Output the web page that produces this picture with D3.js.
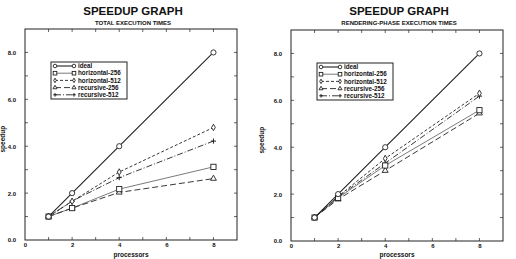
<!DOCTYPE html>
<meta charset="utf-8">
<html lang="en">
<style>
body { margin: 0; background: #fff; }
svg text { font-family: "Liberation Sans", Arial, sans-serif; font-weight: bold; fill: #111; }
.frame { fill: none; stroke: #222; stroke-width: 1px; }
.series { fill: none; stroke: #222; }
</style>
<body>
<div id="chart"></div>
<script src="https://cdn.jsdelivr.net/npm/d3@7"></script>
<script>
// x values (processors) and series values
var procs = [1, 2, 4, 8];
var seriesNames = ["ideal", "horizontal-256", "horizontal-512", "recursive-256", "recursive-512"];

var totalIdeal = [1, 2, 4, 8],
    totalH256  = [1, 1.36, 2.17, 3.12],
    totalH512  = [1, 1.65, 2.9, 4.8],
    totalR256  = [1, 1.36, 2.03, 2.62],
    totalR512  = [1, 1.66, 2.66, 4.22];

var renderIdeal = [1, 2, 4, 8],
    renderH256  = [1, 1.84, 3.22, 5.58],
    renderH512  = [1, 1.9, 3.52, 6.3],
    renderR256  = [1, 1.78, 3.0, 5.45],
    renderR512  = [1, 1.88, 3.32, 6.18];

var xTicks = [0, 2, 4, 6, 8],
    yTicks = [0, 2, 4, 6, 8];

// line style + marker for each series
var styles = [
  {dash: null,      width: 1.1, marker: "circle"},
  {dash: null,      width: 0.6, marker: "square"},
  {dash: "3,2",     width: 0.9, marker: "diamond"},
  {dash: "6,3",     width: 0.9, marker: "triangle"},
  {dash: "6,2,1,2", width: 0.9, marker: "plus"}
];

var svg = d3.select("#chart").append("svg")
    .attr("width", 516)
    .attr("height", 259);

function drawMarker(g, type, cx, cy, r) {
  if (type == "circle") {
    g.append("circle").attr("cx", cx).attr("cy", cy).attr("r", r)
      .attr("fill", "#fff").attr("stroke", "#222").attr("stroke-width", 0.9);
  } else if (type == "square") {
    g.append("rect").attr("x", cx - r).attr("y", cy - r).attr("width", 2 * r).attr("height", 2 * r)
      .attr("fill", "#fff").attr("stroke", "#222").attr("stroke-width", 0.9);
  } else if (type == "diamond") {
    g.append("path").attr("d", d3.symbol().type(d3.symbolDiamond).size(r * r * 1.8)())
      .attr("transform", "translate(" + cx + "," + cy + ")")
      .attr("fill", "#fff").attr("stroke", "#222").attr("stroke-width", 0.9);
  } else if (type == "triangle") {
    g.append("path").attr("d", d3.symbol().type(d3.symbolTriangle).size(r * r * 2.2)())
      .attr("transform", "translate(" + cx + "," + cy + ")")
      .attr("fill", "#fff").attr("stroke", "#222").attr("stroke-width", 0.9);
  } else {
    g.append("path").attr("d", "M" + (cx - r) + "," + cy + "H" + (cx + r) + "M" + cx + "," + (cy - r) + "V" + (cy + r))
      .attr("stroke", "#222").attr("stroke-width", 1);
  }
}

function drawPanel(opts) {
  var g = svg.append("g");
  var x = d3.scaleLinear().domain([0, 9]).range([opts.left, opts.right]);
  var y = d3.scaleLinear().domain([0, 9]).range([opts.bottom, opts.top]);
  var cx = (opts.left + opts.right) / 2;

  g.append("text").attr("x", cx + 2).attr("y", 15).attr("text-anchor", "middle")
    .style("font-size", "11.5px").text("SPEEDUP GRAPH");
  g.append("text").attr("x", cx + 2).attr("y", 25).attr("text-anchor", "middle")
    .style("font-size", "6px").text(opts.subtitle);

  g.append("rect").attr("class", "frame")
    .attr("x", opts.left).attr("y", opts.top)
    .attr("width", opts.right - opts.left).attr("height", opts.bottom - opts.top);

  // axes; tick marks drawn separately inside the frame
  g.append("g").attr("transform", "translate(0," + opts.bottom + ")")
    .call(d3.axisBottom(x).tickValues(xTicks).tickSize(0).tickPadding(3).tickFormat(d3.format("d")))
    .call(function(a) { a.select(".domain").remove(); a.selectAll("text").style("font-size", "6px").style("font-family", null); });
  g.append("g").attr("transform", "translate(" + opts.left + ",0)")
    .call(d3.axisLeft(y).tickValues(yTicks).tickSize(0).tickPadding(9).tickFormat(d3.format(".1f")))
    .call(function(a) { a.select(".domain").remove(); a.selectAll("text").style("font-size", "6px").style("font-family", null); });

  var minor = d3.range(1, 9);
  minor.forEach(function(v) {
    g.append("line").attr("x1", x(v)).attr("x2", x(v)).attr("y1", opts.bottom).attr("y2", opts.bottom - 3).attr("stroke", "#222").attr("stroke-width", 0.7);
    g.append("line").attr("x1", x(v)).attr("x2", x(v)).attr("y1", opts.top).attr("y2", opts.top + 3).attr("stroke", "#222").attr("stroke-width", 0.7);
    g.append("line").attr("x1", opts.left).attr("x2", opts.left + 3).attr("y1", y(v)).attr("y2", y(v)).attr("stroke", "#222").attr("stroke-width", 0.7);
    g.append("line").attr("x1", opts.right).attr("x2", opts.right - 3).attr("y1", y(v)).attr("y2", y(v)).attr("stroke", "#222").attr("stroke-width", 0.7);
  });

  g.append("text").attr("x", cx).attr("y", 257).attr("text-anchor", "middle")
    .style("font-size", "6.5px").text("processors");
  g.append("text").attr("transform", "translate(" + opts.ylabX + "," + y(4.3) + ") rotate(-90)")
    .attr("text-anchor", "middle").style("font-size", "6.5px").text("speedup");

  var line = d3.line().x(function(d, i) { return x(procs[i]); }).y(function(d) { return y(d); });

  // draw from last to first so the ideal line is on top
  for (var s = opts.data.length - 1; s >= 0; s--) {
    var st = styles[s];
    g.append("path").datum(opts.data[s]).attr("class", "series")
      .attr("stroke-width", st.width)
      .attr("stroke-dasharray", st.dash)
      .attr("d", line);
    opts.data[s].forEach(function(v, i) { drawMarker(g, st.marker, x(procs[i]), y(v), 2.6); });
  }

  // legend
  var lx = opts.left + 26, ly = opts.top + 33;
  var lg = g.append("g");
  lg.append("rect").attr("x", lx).attr("y", ly).attr("width", 76).attr("height", 37)
    .attr("fill", "#fff").attr("stroke", "#222").attr("stroke-width", 1);
  seriesNames.forEach(function(name, i) {
    var yy = ly + 4 + i * 7.2;
    var st = styles[i];
    lg.append("line").attr("x1", lx + 4).attr("x2", lx + 23).attr("y1", yy).attr("y2", yy)
      .attr("stroke", "#222").attr("stroke-width", st.width).attr("stroke-dasharray", st.dash);
    drawMarker(lg, st.marker, lx + 4, yy, 1.8);
    drawMarker(lg, st.marker, lx + 23, yy, 1.8);
    lg.append("text").attr("x", lx + 27).attr("y", yy + 2.2).style("font-size", "6.3px").text(name);
  });
}

drawPanel({left: 25, right: 237, top: 29, bottom: 240, ylabX: 5, subtitle: "TOTAL EXECUTION TIMES",
  data: [totalIdeal, totalH256, totalH512, totalR256, totalR512]});
drawPanel({left: 291, right: 503, top: 30, bottom: 241, ylabX: 264, subtitle: "RENDERING-PHASE EXECUTION TIMES",
  data: [renderIdeal, renderH256, renderH512, renderR256, renderR512]});
</script>
</body>
</html>
